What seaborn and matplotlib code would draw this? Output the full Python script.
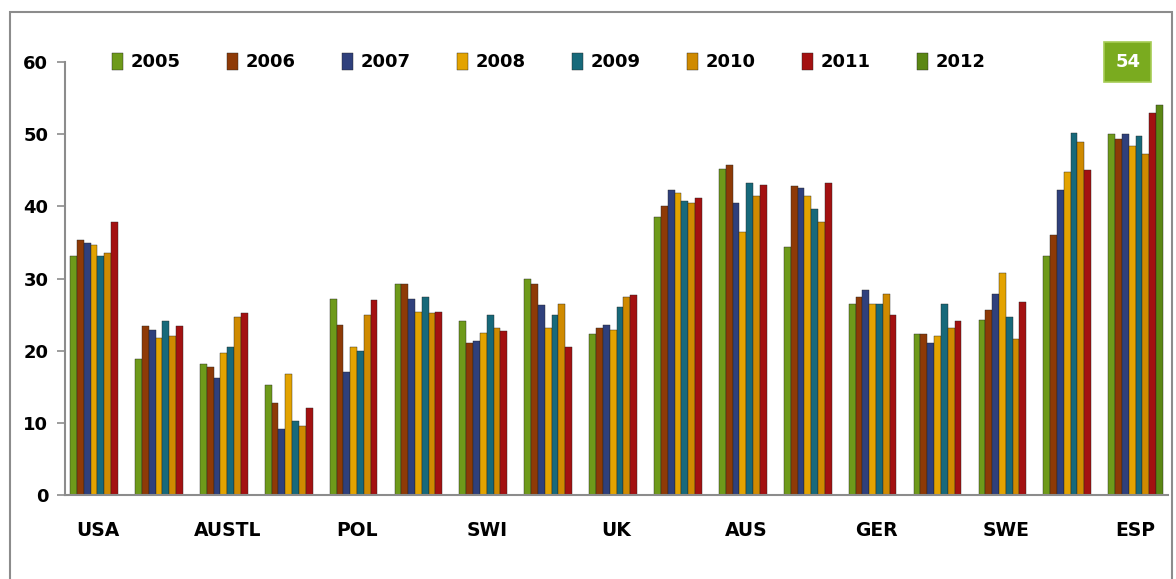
import numpy as np
import pandas as pd
import matplotlib
matplotlib.use("Agg")
import matplotlib.pyplot as plt
import seaborn as sns
from matplotlib.patches import Rectangle

# chart data
groups = ["USA", "g2", "AUSTL", "g4", "POL", "g6", "SWI", "g8", "UK",
          "g10", "AUS", "g12", "GER", "g14", "SWE", "g16", "ESP"]
tick_labels = ["USA", "", "AUSTL", "", "POL", "", "SWI", "", "UK",
               "", "AUS", "", "GER", "", "SWE", "", "ESP"]
years = ["2005", "2006", "2007", "2008", "2009", "2010", "2011", "2012"]

v2005 = [33.1, 18.9, 18.2, 15.2, 27.2, 29.3, 24.1, 30.0, 22.3, 38.5, 45.2, 34.4, 26.5, 22.3, 24.3, 33.1, 50.0]
v2006 = [35.4, 23.4, 17.8, 12.8, 23.5, 29.2, 21.1, 29.3, 23.2, 40.1, 45.7, 42.8, 27.4, 22.3, 25.7, 36.0, 49.3]
v2007 = [34.9, 22.8, 16.2, 9.2, 17.1, 27.2, 21.3, 26.3, 23.5, 42.3, 40.5, 42.5, 28.4, 21.0, 27.9, 42.2, 50.0]
v2008 = [34.7, 21.7, 19.7, 16.8, 20.5, 25.4, 22.5, 23.2, 22.9, 41.9, 36.4, 41.4, 26.5, 22.1, 30.7, 44.8, 48.3]
v2009 = [33.1, 24.1, 20.5, 10.3, 20.0, 27.5, 24.9, 25.0, 26.1, 40.7, 43.2, 39.6, 26.5, 26.5, 24.6, 50.1, 49.8]
v2010 = [33.5, 22.0, 24.6, 9.5, 24.9, 25.2, 23.1, 26.5, 27.4, 40.4, 41.5, 37.8, 27.8, 23.2, 21.6, 48.9, 47.3]
v2011 = [37.8, 23.4, 25.2, 12.1, 27.0, 25.3, 22.7, 20.5, 27.7, 41.1, 42.9, 43.2, 25.0, 24.1, 26.7, 45.1, 53.0]
v2012 = [np.nan] * 16 + [54]

series = [v2005, v2006, v2007, v2008, v2009, v2010, v2011, v2012]
colors = ["#6e9a1a", "#8e3a07", "#2f407c", "#e3a300", "#17697a",
          "#cf8a00", "#a31111", "#5b8714"]

rows = []
for year, vals in zip(years, series):
    for g, v in zip(groups, vals):
        rows.append({"group": g, "year": year, "value": v})
df = pd.DataFrame(rows)

sns.set_style("white")
plt.rcParams["font.family"] = ["DejaVu Sans"]
plt.rcParams["text.color"] = "black"

fig = plt.figure(figsize=(11.76, 5.79), dpi=100)
ax = fig.add_axes([65 / 1176, 1 - 495 / 579, 1103 / 1176, (495 - 62) / 579])

sns.barplot(data=df, x="group", y="value", hue="year", order=groups,
            hue_order=years, palette=colors, width=0.84, errorbar=None,
            saturation=1, edgecolor="#222222", linewidth=0.3, ax=ax)

ax.set_ylim(0, 60)
ax.set_xlim(-0.5, len(groups) - 0.5)
ax.set_yticks(range(0, 61, 10))
ax.set_yticklabels([str(t) for t in range(0, 61, 10)], fontsize=13, fontweight="bold")
ax.set_xticks(range(len(groups)))
ax.set_xticklabels(tick_labels, fontsize=13.5, fontweight="bold")
ax.set_xticks(np.arange(-0.5, len(groups), 1), minor=True)
ax.tick_params(axis="x", which="major", length=0, pad=19, labelcolor="black")
ax.tick_params(axis="x", which="minor", length=6, color="#8c8c8c", width=1.2)
ax.tick_params(axis="y", length=6, color="#8c8c8c", width=1.2, pad=6,
               left=True, labelcolor="black")
ax.set_xlabel("")
ax.set_ylabel("")

for side in ["top", "right"]:
    ax.spines[side].set_visible(False)
for side in ["left", "bottom"]:
    ax.spines[side].set_color("#8c8c8c")
    ax.spines[side].set_linewidth(1.5)

leg = ax.legend(loc="center left", bbox_to_anchor=(96 / 1176, 1 - 62 / 579),
                bbox_transform=fig.transFigure, ncol=8, frameon=False,
                handlelength=0.6, handleheight=1.1, handletextpad=0.4,
                columnspacing=2.6, prop={"weight": "bold", "size": 13})
for t in leg.get_texts():
    t.set_color("black")

# value label for the last bar
ax.text(len(groups) - 1 - 0.12, v2012[-1] + 6, "54", ha="center", va="center",
        color="white", fontsize=13, fontweight="bold",
        bbox=dict(boxstyle="square,pad=0.6", facecolor="#7aab1f",
                  edgecolor="#a6cc55", linewidth=1.2))

# outer chart border
fig.patches.append(Rectangle((10 / 1176, -0.05), 1162 / 1176, 1.05 - 12 / 579,
                             transform=fig.transFigure, fill=False,
                             edgecolor="#8c8c8c", linewidth=1.5))

fig.savefig("out.png", dpi=100)
